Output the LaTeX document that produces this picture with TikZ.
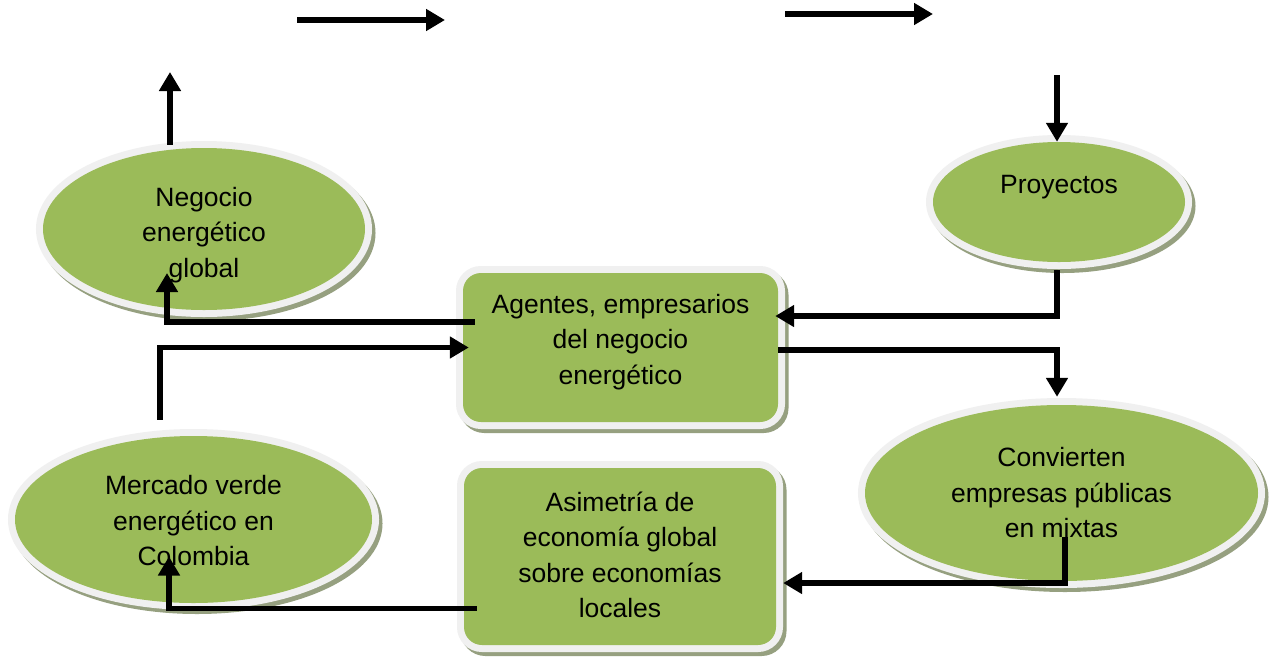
\documentclass[tikz,border=0pt]{standalone}
\usepackage{fontspec}
\setmainfont{Liberation Sans}
\usetikzlibrary{arrows.meta,shapes.geometric,calc}
\definecolor{leaf}{HTML}{9BBB59}
\definecolor{rim}{HTML}{F0F0F0}
\definecolor{shade}{RGB}{150,160,128}
\tikzset{
  shell/.style={fill=leaf, inner sep=0pt,
    preaction={draw=shade, fill=shade, line width=14pt,
               transform canvas={xshift=3.5pt,yshift=-4pt}},
    preaction={draw=rim, line width=14pt}},
  oval/.style={shell, ellipse},
  panel/.style={shell, rectangle, rounded corners=18pt},
  txt/.style={align=center, font=\fontsize{26.5}{35.5}\selectfont, inner sep=0pt},
  arr/.style={line width=5.5pt, -{Triangle[width=21pt,length=19pt]}},
}
\begin{document}
\begin{tikzpicture}[x=1pt, y=-1pt]
  % page
  \fill[white] (0,0) rectangle (1269,657);
  \useasboundingbox (0,0) rectangle (1269,657);

  % ovals
  \node[oval, minimum width=322pt, minimum height=162pt] (negocio) at (204,229) {};
  \node[txt] (negociotext) at (204,235) {Negocio\\energético\\global};
  \node[oval, minimum width=252pt, minimum height=120pt] (proy) at (1059,202) {};
  \node[txt] (proytext) at (1059,187) {Proyectos};
  \node[oval, minimum width=393pt, minimum height=176pt] (conv) at (1061.5,493) {};
  \node[txt] (convtext) at (1061.5,493) {Convierten\\empresas públicas\\en mixtas};
  \node[oval, minimum width=357pt, minimum height=167pt] (merc) at (193.5,519.5) {};
  \node[txt] (merctext) at (193.5,521) {Mercado verde\\energético en\\Colombia};

  % boxes
  \node[panel, minimum width=315pt, minimum height=149pt] (agentes) at (620.5,347.5) {};
  \node[txt] (agentestext) at (620.5,342) {Agentes, empresarios\\del negocio\\energético};
  \node[panel, minimum width=312pt, minimum height=177pt] (asim) at (620,556.5) {};
  \node[txt] (asimtext) at (620,555) {Asimetría de\\economía global\\sobre economías\\locales};

  % free arrow ends
  \coordinate (t1a) at (297,20);
  \coordinate (t1b) at (445,20);
  \coordinate (t2a) at (785,14);
  \coordinate (t2b) at (933,14);
  \coordinate (up) at (170,72);
  \coordinate (dn) at (1057,75);

  % arrows
  \draw[arr] (t1a) -- (t1b);
  \draw[arr] (t2a) -- (t2b);
  \draw[arr] ($(up |- negocio.north)+(0,-3)$) -- (up);
  \draw[arr] (dn) -- (dn |- proy.north);
  \draw[arr] ($(proy.south)+(-2,8)$) |- ($(agentes.east)+(-3,-31.5)$);
  \draw[arr] ($(agentes.east)+(0,2.5)$) -| ($(conv.north)+(-4.5,-8)$);
  \draw[arr] ($(conv.center)+(3.5,44)$) |- ($(asim.east)+(7,26.5)$);
  \draw[arr] ($(asim.west)+(13,52)$) -| ($(merc.center)+(-24.5,37)$);
  \draw[arr] ($(agentes.west)+(12,-25.5)$) -| ($(negocio.center)+(-37,44)$);
  \draw[arr] ($(merc.north)+(-33.5,-16)$) |- ($(agentes.west)+(6,0)$);
\end{tikzpicture}
\end{document}
